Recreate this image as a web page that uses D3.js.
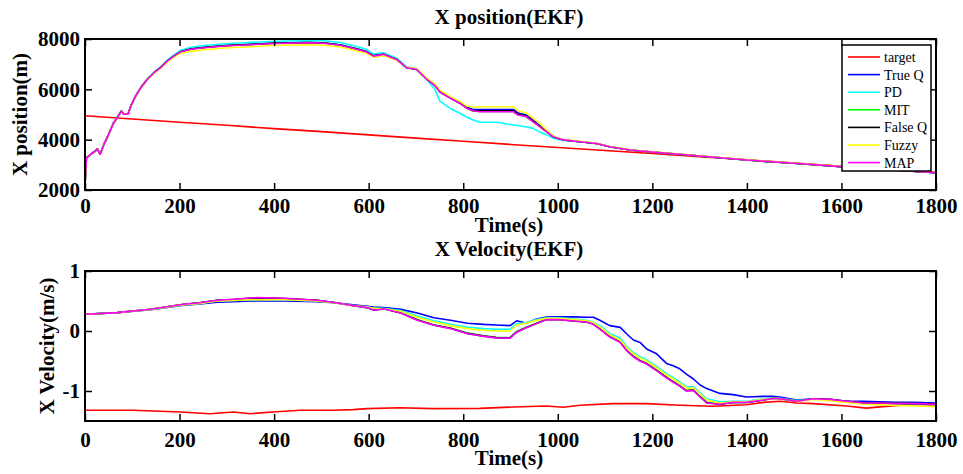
<!DOCTYPE html>
<html>
<head>
<meta charset="utf-8">
<script src="https://cdn.jsdelivr.net/npm/d3@7"></script>
<style>
  body { margin: 0; background: #fff; }
  text { font-family: "Liberation Serif", "Times New Roman", serif; }
</style>
</head>
<body>
<div id="chart"></div>
<script>
// ---- data ----
const seriesNames = ["target", "True Q", "PD", "MIT", "False Q", "Fuzzy", "MAP"];
const seriesColors = ["#ff0000", "#0000ff", "#00ffff", "#00ff00", "#000000", "#ffff00", "#ff00ff"];

const xTicks = [0, 200, 400, 600, 800, 1000, 1200, 1400, 1600, 1800];
const posTicks = [2000, 4000, 6000, 8000];
const velTicks = [-1, 0, 1];

// X position, target
const tPosTarget = [0, 100, 200, 300, 400, 500, 600, 700, 800, 900, 1000, 1100, 1200, 1300, 1400, 1500, 1600, 1700, 1800];
const posTarget = [4950, 4820, 4690, 4570, 4440, 4320, 4190, 4060, 3940, 3810, 3690, 3570, 3450, 3320, 3200, 3070, 2940, 2820, 2690];

// X position, estimators
const tPos = [0, 3, 12, 22, 26, 32, 40, 50, 60, 68, 77, 82, 91, 97, 107, 118, 132, 146, 160, 174,
  188, 202, 224, 252, 294, 336, 400, 470, 505, 540, 575, 596, 610, 631, 659, 680, 701, 723, 740, 751,
  772, 793, 807, 821, 835, 871, 906, 916, 934, 948, 962, 976, 990, 1012, 1047, 1082, 1110, 1153, 1200, 1300,
  1400, 1500, 1600, 1700, 1800];
const posTrueQ = [2200, 3280, 3420, 3550, 3640, 3420, 3810, 4210, 4650, 4870, 5140, 5010, 5010, 5340, 5730, 6060, 6400, 6660, 6870, 7130,
  7330, 7510, 7610, 7670, 7740, 7780, 7840, 7870, 7850, 7770, 7610, 7500, 7340, 7400, 7200, 6870, 6810, 6420, 6180, 5910,
  5690, 5480, 5300, 5200, 5200, 5200, 5200, 5060, 4980, 4780, 4560, 4340, 4130, 3990, 3920, 3850, 3720, 3590, 3510, 3350,
  3190, 3060, 2930, 2810, 2690];
const posPD = [2200, 3280, 3420, 3550, 3640, 3420, 3810, 4210, 4650, 4870, 5140, 5010, 5010, 5340, 5740, 6070, 6420, 6680, 6890, 7160,
  7370, 7550, 7670, 7740, 7810, 7850, 7910, 7940, 7930, 7860, 7700, 7580, 7400, 7450, 7240, 6900, 6830, 6380, 6000, 5520,
  5250, 5050, 4900, 4780, 4690, 4690, 4580, 4560, 4500, 4450, 4300, 4200, 4060, 3970, 3920, 3850, 3720, 3590, 3510, 3350,
  3190, 3060, 2930, 2810, 2690];
const posMIT = [2200, 3280, 3420, 3550, 3640, 3420, 3810, 4210, 4650, 4870, 5140, 5010, 5010, 5340, 5730, 6060, 6400, 6660, 6860, 7120,
  7320, 7490, 7600, 7660, 7730, 7770, 7830, 7860, 7840, 7760, 7600, 7490, 7330, 7390, 7190, 6860, 6800, 6400, 6160, 5890,
  5660, 5450, 5260, 5130, 5120, 5120, 5120, 4990, 4910, 4720, 4520, 4320, 4120, 3990, 3920, 3850, 3720, 3590, 3510, 3350,
  3190, 3060, 2930, 2810, 2690];
const posFalseQ = [2200, 3280, 3420, 3550, 3640, 3420, 3810, 4210, 4650, 4870, 5140, 5010, 5010, 5340, 5730, 6060, 6400, 6660, 6860, 7120,
  7320, 7490, 7600, 7660, 7730, 7770, 7830, 7860, 7840, 7760, 7600, 7490, 7330, 7390, 7190, 6860, 6800, 6410, 6170, 5900,
  5670, 5460, 5270, 5160, 5150, 5150, 5150, 5010, 4930, 4730, 4530, 4330, 4120, 3990, 3920, 3850, 3720, 3590, 3510, 3350,
  3190, 3060, 2930, 2810, 2690];
const posFuzzy = [2200, 3280, 3420, 3550, 3640, 3420, 3810, 4210, 4650, 4870, 5140, 5010, 5010, 5330, 5720, 6040, 6380, 6640, 6830, 7080,
  7270, 7430, 7510, 7570, 7640, 7680, 7740, 7770, 7750, 7680, 7520, 7420, 7280, 7340, 7160, 6880, 6830, 6450, 6220, 5960,
  5720, 5520, 5340, 5300, 5310, 5310, 5310, 5150, 5050, 4850, 4650, 4400, 4150, 4000, 3940, 3860, 3730, 3600, 3520, 3360,
  3200, 3070, 2940, 2820, 2700];
const posMAP = [2200, 3280, 3420, 3550, 3640, 3420, 3810, 4210, 4650, 4870, 5140, 5010, 5010, 5340, 5730, 6060, 6400, 6660, 6860, 7120,
  7320, 7490, 7590, 7650, 7720, 7760, 7820, 7850, 7830, 7750, 7590, 7480, 7320, 7390, 7190, 6860, 6800, 6400, 6150, 5880,
  5650, 5440, 5250, 5150, 5110, 5110, 5110, 4980, 4910, 4710, 4520, 4320, 4120, 3990, 3920, 3850, 3720, 3590, 3510, 3350,
  3190, 3060, 2930, 2810, 2690];

// X velocity, target
const tVelTarget = [0, 102, 201, 264, 314, 349, 398, 455, 525, 567, 596, 666, 737, 835, 906, 976, 1012, 1047, 1117, 1188,
  1258, 1329, 1399, 1435, 1470, 1505, 1540, 1611, 1653, 1681, 1752, 1800];
const velTarget = [-1.32, -1.32, -1.35, -1.378, -1.35, -1.378, -1.35, -1.32, -1.32, -1.31, -1.294, -1.28, -1.294, -1.29, -1.267, -1.25, -1.27, -1.238, -1.21, -1.21,
  -1.238, -1.255, -1.23, -1.19, -1.17, -1.2, -1.21, -1.25, -1.285, -1.265, -1.22, -1.24];

// X velocity, estimators
const tVel = [0, 68, 139, 209, 243, 280, 315, 349, 364, 421, 491, 527, 562, 597, 611, 632, 668, 703, 738, 773,
  809, 844, 870, 899, 913, 934, 955, 976, 1005, 1033, 1061, 1075, 1089, 1110, 1132, 1146, 1160, 1174, 1188, 1209,
  1230, 1244, 1258, 1272, 1287, 1301, 1315, 1343, 1371, 1399, 1435, 1456, 1470, 1505, 1540, 1576, 1611, 1646, 1681, 1717,
  1752, 1800];
const velTrueQ = [0.278, 0.305, 0.355, 0.43, 0.45, 0.48, 0.49, 0.5, 0.5, 0.5, 0.49, 0.47, 0.44, 0.41, 0.4, 0.39, 0.36, 0.3, 0.22, 0.18,
  0.13, 0.11, 0.1, 0.09, 0.17, 0.13, 0.2, 0.233, 0.235, 0.235, 0.23, 0.23, 0.18, 0.09, 0.06, -0.05, -0.15, -0.19, -0.3, -0.38,
  -0.54, -0.58, -0.63, -0.72, -0.8, -0.9, -0.96, -1.04, -1.06, -1.1, -1.09, -1.09, -1.1, -1.15, -1.13, -1.15, -1.17, -1.17, -1.18, -1.19,
  -1.19, -1.2];
const velPD = [0.278, 0.305, 0.36, 0.44, 0.46, 0.5, 0.51, 0.52, 0.525, 0.52, 0.5, 0.47, 0.43, 0.4, 0.38, 0.38, 0.34, 0.25, 0.17, 0.11,
  0.06, 0.04, 0.03, 0.03, 0.12, 0.14, 0.19, 0.22, 0.22, 0.2, 0.18, 0.15, 0.09, -0.04, -0.12, -0.26, -0.36, -0.43, -0.48, -0.59,
  -0.71, -0.78, -0.85, -0.93, -0.93, -1.03, -1.13, -1.18, -1.17, -1.17, -1.13, -1.11, -1.12, -1.16, -1.13, -1.15, -1.18, -1.2, -1.21, -1.22,
  -1.22, -1.23];
const velMIT = [0.278, 0.306, 0.362, 0.445, 0.47, 0.51, 0.525, 0.545, 0.55, 0.54, 0.51, 0.475, 0.43, 0.39, 0.35, 0.37, 0.305, 0.19, 0.1, 0.05,
  -0.035, -0.08, -0.105, -0.11, -0.01, 0.065, 0.13, 0.195, 0.195, 0.17, 0.155, 0.12, 0.04, -0.09, -0.18, -0.32, -0.42, -0.49, -0.54, -0.65,
  -0.77, -0.84, -0.91, -0.99, -0.98, -1.09, -1.19, -1.22, -1.19, -1.19, -1.15, -1.12, -1.13, -1.17, -1.13, -1.14, -1.17, -1.2, -1.2, -1.21,
  -1.21, -1.22];
const velFalseQ = [0.278, 0.306, 0.362, 0.445, 0.47, 0.51, 0.525, 0.545, 0.55, 0.54, 0.51, 0.475, 0.43, 0.39, 0.348, 0.37, 0.302, 0.185, 0.1, 0.045,
  -0.04, -0.085, -0.11, -0.115, -0.015, 0.06, 0.125, 0.19, 0.19, 0.168, 0.15, 0.115, 0.035, -0.095, -0.185, -0.325, -0.425, -0.495, -0.545, -0.655,
  -0.775, -0.845, -0.915, -0.995, -0.985, -1.095, -1.195, -1.22, -1.19, -1.19, -1.15, -1.12, -1.13, -1.17, -1.13, -1.14, -1.17, -1.2, -1.2, -1.21,
  -1.21, -1.22];
const velFuzzy = [0.278, 0.305, 0.36, 0.44, 0.46, 0.5, 0.51, 0.52, 0.52, 0.52, 0.5, 0.47, 0.43, 0.4, 0.38, 0.37, 0.33, 0.23, 0.15, 0.09,
  0.04, 0.01, 0.0, 0.0, 0.1, 0.13, 0.18, 0.21, 0.21, 0.19, 0.17, 0.14, 0.07, -0.06, -0.15, -0.28, -0.38, -0.45, -0.5, -0.61,
  -0.73, -0.8, -0.87, -0.95, -0.95, -1.05, -1.15, -1.2, -1.18, -1.18, -1.14, -1.12, -1.13, -1.17, -1.14, -1.16, -1.19, -1.22, -1.23, -1.24,
  -1.25, -1.26];
const velMAP = [0.278, 0.306, 0.362, 0.445, 0.47, 0.512, 0.528, 0.55, 0.556, 0.545, 0.512, 0.475, 0.43, 0.39, 0.345, 0.37, 0.3, 0.18, 0.095, 0.04,
  -0.045, -0.09, -0.115, -0.12, -0.02, 0.057, 0.123, 0.19, 0.19, 0.167, 0.15, 0.112, 0.03, -0.1, -0.19, -0.33, -0.43, -0.5, -0.55, -0.66,
  -0.78, -0.85, -0.92, -1.0, -0.99, -1.1, -1.2, -1.22, -1.19, -1.19, -1.15, -1.12, -1.13, -1.17, -1.13, -1.14, -1.17, -1.2, -1.2, -1.21,
  -1.21, -1.22];

// ---- drawing ----
const W = 963, H = 474;
const svg = d3.select("#chart").append("svg")
    .attr("width", W)
    .attr("height", H);
svg.append("rect").attr("width", W).attr("height", H).attr("fill", "#fff");

const zip = (ts, vs) => ts.map((t, i) => [t, vs[i]]);

function drawPanel(cfg) {
    const { left, right, top, bottom } = cfg;
    const x = d3.scaleLinear().domain([0, 1800]).range([left, right]);
    const y = d3.scaleLinear().domain(cfg.yDomain).range([bottom, top]);
    const g = svg.append("g");

    // clip for the curves
    g.append("clipPath").attr("id", cfg.id + "-clip")
      .append("rect")
      .attr("x", left).attr("y", top)
      .attr("width", right - left).attr("height", bottom - top);

    const line = d3.line().x(d => x(d[0])).y(d => y(d[1]));
    const lines = g.append("g").attr("clip-path", `url(#${cfg.id}-clip)`);
    cfg.series.forEach((s, i) => {
        lines.append("path")
          .datum(zip(s.t, s.v))
          .attr("fill", "none")
          .attr("stroke", seriesColors[i])
          .attr("stroke-width", 1.6)
          .attr("stroke-linejoin", "round")
          .attr("d", line);
    });

    // axes with inward ticks
    const tick = 7;
    const axB = g.append("g").attr("transform", `translate(0,${bottom})`)
      .call(d3.axisBottom(x).tickValues(xTicks).tickSize(-tick).tickSizeOuter(0).tickPadding(cfg.xPad).tickFormat(d3.format("d")));
    const axT = g.append("g").attr("transform", `translate(0,${top})`)
      .call(d3.axisTop(x).tickValues(xTicks).tickSize(-tick).tickSizeOuter(0).tickFormat(""));
    const axL = g.append("g").attr("transform", `translate(${left},0)`)
      .call(d3.axisLeft(y).tickValues(cfg.yTicks).tickSize(-tick).tickSizeOuter(0).tickPadding(5).tickFormat(d => String(d)));
    const axR = g.append("g").attr("transform", `translate(${right},0)`)
      .call(d3.axisRight(y).tickValues(cfg.yTicks).tickSize(-tick).tickSizeOuter(0).tickFormat(""));

    [axB, axT, axL, axR].forEach(a => {
        a.select(".domain").remove();
        a.selectAll(".tick line").attr("stroke", "#000").attr("stroke-width", 1.5);
        a.selectAll("text")
          .attr("font-family", "Liberation Serif, serif")
          .attr("font-weight", "bold")
          .attr("font-size", 21)
          .attr("fill", "#000");
    });

    g.append("rect")
      .attr("x", left).attr("y", top)
      .attr("width", right - left).attr("height", bottom - top)
      .attr("fill", "none").attr("stroke", "#000").attr("stroke-width", 2);

    // titles and labels
    const bold = sel => sel.attr("font-weight", "bold").attr("font-size", 21).attr("fill", "#000");
    g.append("text").attr("x", 509).attr("y", cfg.titleY).attr("text-anchor", "middle")
      .text(cfg.title).call(bold);
    g.append("text").attr("x", 509).attr("y", cfg.xLabelY).attr("text-anchor", "middle")
      .text("Time(s)").call(bold);
    g.append("text")
      .attr("transform", `translate(${cfg.yLabelX},${(top + bottom) / 2}) rotate(-90)`)
      .attr("text-anchor", "middle").attr("dy", "0.35em")
      .text(cfg.yLabel).call(bold);

    return g;
}

const topPanel = drawPanel({
    id: "pos", left: 85, right: 936, top: 39, bottom: 190,
    yDomain: [2000, 8000], yTicks: posTicks, xPad: 8,
    title: "X position(EKF)", titleY: 24, xLabelY: 232,
    yLabel: "X position(m)", yLabelX: 20,
    series: [
        { t: tPosTarget, v: posTarget },
        { t: tPos, v: posTrueQ },
        { t: tPos, v: posPD },
        { t: tPos, v: posMIT },
        { t: tPos, v: posFalseQ },
        { t: tPos, v: posFuzzy },
        { t: tPos, v: posMAP }
    ]
});

drawPanel({
    id: "vel", left: 85, right: 936, top: 271, bottom: 421,
    yDomain: [-1.5, 1], yTicks: velTicks, xPad: 11,
    title: "X Velocity(EKF)", titleY: 256, xLabelY: 465,
    yLabel: "X Velocity(m/s)", yLabelX: 47,
    series: [
        { t: tVelTarget, v: velTarget },
        { t: tVel, v: velTrueQ },
        { t: tVel, v: velPD },
        { t: tVel, v: velMIT },
        { t: tVel, v: velFalseQ },
        { t: tVel, v: velFuzzy },
        { t: tVel, v: velMAP }
    ]
});

// legend in the top panel
const legend = topPanel.append("g").attr("transform", "translate(842,45)");
legend.append("rect")
  .attr("width", 89).attr("height", 126)
  .attr("fill", "#fff").attr("stroke", "#000").attr("stroke-width", 1.5);
seriesNames.forEach((name, i) => {
    const yy = 12 + i * 17.6;
    legend.append("line")
      .attr("x1", 6).attr("x2", 38).attr("y1", yy).attr("y2", yy)
      .attr("stroke", seriesColors[i]).attr("stroke-width", 1.6);
    legend.append("text")
      .attr("x", 42).attr("y", yy).attr("dy", "0.35em")
      .attr("font-size", 14).attr("fill", "#000")
      .text(name);
});
</script>
</body>
</html>
